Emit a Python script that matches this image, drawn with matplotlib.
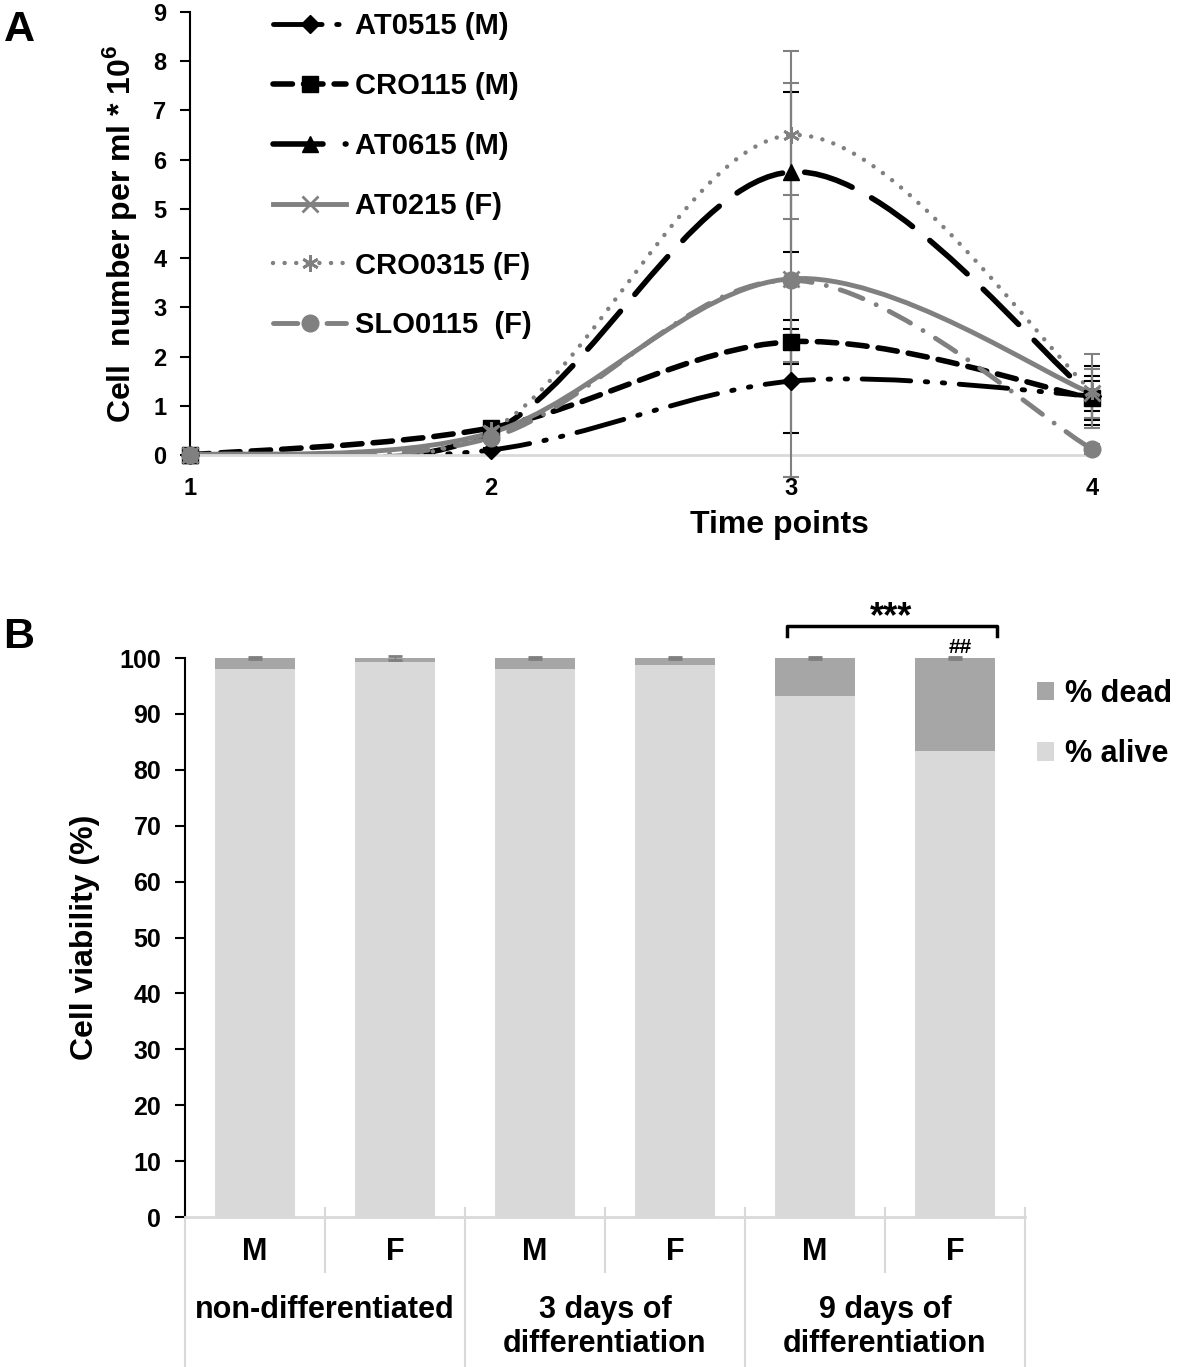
import numpy as np
import matplotlib
matplotlib.use("Agg")
import matplotlib.pyplot as plt
from matplotlib.path import Path
from matplotlib.patches import PathPatch
from matplotlib.lines import Line2D

plt.rcParams["font.family"] = ["Liberation Sans", "DejaVu Sans"]
plt.rcParams["font.weight"] = "bold"
plt.rcParams["mathtext.fontset"] = "custom"
plt.rcParams["mathtext.rm"] = "Liberation Sans"
plt.rcParams["mathtext.bf"] = "Liberation Sans:bold"

# panel A data (cell number per ml * 10^6)
time_points = [1, 2, 3, 4]
lines_names = ["AT0515 (M)", "CRO115 (M)", "AT0615 (M)", "AT0215 (F)", "CRO0315 (F)", "SLO0115  (F)"]
at0515 = [0.0, 0.1, 1.5, 1.2]
cro115 = [0.0, 0.55, 2.3, 1.15]
at0615 = [0.0, 0.45, 5.75, 1.2]
at0215 = [0.0, 0.45, 3.58, 1.25]
cro0315 = [0.0, 0.5, 6.5, 1.3]
slo0115 = [0.0, 0.35, 3.55, 0.12]
at0515_err = [0.0, 0.05, 1.05, 0.3]
cro115_err = [0.0, 0.1, 0.45, 0.45]
at0615_err = [0.0, 0.1, 1.62, 0.6]
at0215_err = [0.0, 0.1, 1.7, 0.5]
cro0315_err = [0.0, 0.1, 1.7, 0.75]
slo0115_err = [0.0, 0.05, 4.0, 0.1]

# panel B data (cell viability %)
groups = ["non-differentiated", "3 days of\ndifferentiation", "9 days of\ndifferentiation"]
sexes = ["M", "F", "M", "F", "M", "F"]
alive = [98.0, 99.3, 98.1, 98.8, 93.3, 83.4]
dead = [2.0, 0.7, 1.9, 1.2, 6.7, 16.6]
dead_err = [0.15, 0.3, 0.15, 0.2, 0.15, 0.15]

gray = "#808080"
light = "#d9d9d9"


def smooth_path(xs, ys):
    # bezier segments like excel's "smoothed line"
    pts = np.column_stack([xs, ys]).astype(float)
    n = len(pts)
    verts = [pts[0]]
    codes = [Path.MOVETO]
    for i in range(n - 1):
        p0 = pts[max(i - 1, 0)]
        p1 = pts[i]
        p2 = pts[i + 1]
        p3 = pts[min(i + 2, n - 1)]
        c1 = p1 + (p2 - p0) / 6.0
        c2 = p2 - (p3 - p1) / 6.0
        verts += [c1, c2, p2]
        codes += [Path.CURVE4] * 3
    return Path(verts, codes)


fig = plt.figure(figsize=(11.81, 13.67), dpi=100)

# ---------------- panel A ----------------
ax1 = fig.add_axes([0.161, 0.6672, 0.7637, 0.3240])

series = [
    (at0515, at0515_err, "black", "D", 9, (0, (10, 3, 0.5, 3, 0.5, 3)), 3.5),
    (cro115, cro115_err, "black", "s", 11, (0, (3.5, 2)), 4),
    (at0615, at0615_err, "black", "^", 12, (0, (9, 4)), 4),
    (at0215, at0215_err, gray, "x", 12, "-", 3.5),
    (cro0315, cro0315_err, gray, (6, 2, 0), 12, (0, (0.01, 2.6)), 3.2),
    (slo0115, slo0115_err, gray, "o", 12, (0, (5, 3, 0.01, 3)), 3.5),
]

handles = []
for (vals, err, col, mk, ms, ls, lw), name in zip(series, lines_names):
    ax1.add_patch(PathPatch(smooth_path(time_points, vals), transform=ax1.transData,
                            fill=False, edgecolor=col, lw=lw, linestyle=ls,
                            capstyle="round", zorder=2))
    eb = ax1.errorbar(time_points, vals, yerr=err, fmt="none", ecolor=col,
                      elinewidth=1.5, capsize=6, capthick=1.5, zorder=3)
    for c in eb.get_children():
        c.set_clip_on(False)
    mew = 2 if mk in ("x", (6, 2, 0)) else 1
    ax1.plot(time_points, vals, linestyle="none", marker=mk, ms=ms, color=col,
             mew=mew, clip_on=False, zorder=4)
    handles.append(Line2D([], [], color=col, lw=lw, linestyle=ls, marker=mk, ms=ms,
                          mew=mew, dash_capstyle="round"))

ax1.set_xlim(1, 4)
ax1.set_ylim(0, 9)
ax1.set_xticks(time_points)
ax1.set_yticks(range(0, 10))
ax1.tick_params(axis="x", length=0, pad=16, labelsize=17)
ax1.tick_params(axis="y", length=7, width=1.5, direction="out", pad=10, labelsize=17)
for s in ["top", "right"]:
    ax1.spines[s].set_visible(False)
ax1.spines["left"].set_linewidth(1.5)
ax1.spines["bottom"].set_color(light)
ax1.spines["bottom"].set_linewidth(2)
ax1.set_xlabel("Time points", fontsize=23, fontweight="bold")
ax1.xaxis.set_label_coords(0.653, -0.125)
ax1.set_ylabel("Cell  number per ml * 10$^{\\mathbf{6}}$", fontsize=23,
               fontweight="bold", labelpad=10)

ax1.legend(handles, lines_names, loc="upper left", bbox_to_anchor=(0.229, 0.993),
           bbox_transform=fig.transFigure, frameon=False, fontsize=21,
           numpoints=1, handlelength=2.5, handletextpad=0.3, labelspacing=1.09,
           borderaxespad=0.0, borderpad=0.1)

# ---------------- panel B ----------------
ax2 = fig.add_axes([0.1566, 0.1097, 0.7113, 0.4089])
x = np.arange(len(sexes))
ax2.bar(x, alive, width=0.57, color=light, label="% alive", zorder=2)
ax2.bar(x, dead, width=0.57, bottom=alive, color="#a6a6a6", label="% dead", zorder=2)
ax2.errorbar(x, np.add(alive, dead), yerr=dead_err, fmt="none", ecolor="#7f7f7f",
             elinewidth=1, capsize=5, capthick=2, clip_on=False, zorder=3)

ax2.set_xlim(-0.5, 5.5)
ax2.set_ylim(0, 100)
ax2.set_yticks(range(0, 101, 10))
ax2.set_xticks([])
ax2.tick_params(axis="y", length=7, width=1.5, direction="out", pad=10, labelsize=18)
for s in ["top", "right"]:
    ax2.spines[s].set_visible(False)
ax2.spines["left"].set_linewidth(1.5)
ax2.spines["bottom"].set_color(light)
ax2.spines["bottom"].set_linewidth(2)
ax2.set_ylabel("Cell viability (%)", fontsize=23, fontweight="bold", labelpad=14)

# multi level category axis below the bars
for b in np.arange(-0.5, 6, 1.0):
    bottom = -26.8 if b in (-0.5, 1.5, 3.5, 5.5) else -9.8
    ax2.plot([b, b], [1.6, bottom], color=light, lw=1.5, clip_on=False, zorder=1)
for i, s in enumerate(sexes):
    ax2.text(x[i], -6.3, s, ha="center", va="center", fontsize=22, fontweight="bold")
for g, name in enumerate(groups):
    yy = -16.6 if "\n" not in name else -19.7
    ax2.text(2 * g + 0.5, yy, name, ha="center", va="center", fontsize=22,
             fontweight="bold", linespacing=1.2)

# significance marks
ax2.plot([3.8, 3.8, 5.3, 5.3], [103.9, 105.7, 105.7, 103.9], color="black", lw=2.5,
         clip_on=False)
ax2.text(4.54, 107.3, "***", ha="center", va="center", fontsize=26, fontweight="bold")
ax2.text(5.04, 101.9, "##", ha="center", va="center", fontsize=15, fontweight="bold")

h, l = ax2.get_legend_handles_labels()
ax2.legend(h[::-1], l[::-1], loc="upper left", bbox_to_anchor=(1.0, 0.985),
           frameon=False, fontsize=22, handlelength=0.55, handleheight=0.55,
           handletextpad=0.35, labelspacing=1.0, borderaxespad=0.0)

fig.text(0.003, 0.978, "A", fontsize=31, fontweight="bold", va="center")
fig.text(0.003, 0.534, "B", fontsize=31, fontweight="bold", va="center")

fig.savefig("out.png", dpi=100)
